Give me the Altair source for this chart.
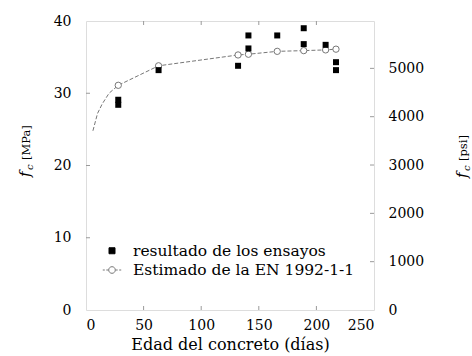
import altair as alt
import pandas as pd

# Ensayos de compresión (MPa) por edad del concreto (días)
dias_ensayo = [28, 28, 63, 132, 141, 141, 166, 189, 189, 208, 217, 217]
fc_ensayo = [29.1, 28.4, 33.2, 33.8, 38.0, 36.2, 38.0, 39.0, 36.8, 36.7, 34.3, 33.2]

# Curva estimada según EN 1992-1-1
dias_curva = [6, 10, 14, 20, 28, 63, 132, 141, 166, 189, 208, 217]
fc_curva = [24.8, 27.2, 28.5, 30.0, 31.1, 33.8, 35.3, 35.4, 35.8, 35.9, 36.0, 36.1]
dias_circulos = [28, 63, 132, 141, 166, 189, 208, 217]
fc_circulos = [31.1, 33.8, 35.3, 35.4, 35.8, 35.9, 36.0, 36.1]

# Ejes
x_dominio = [0, 250]
y_dominio = [0, 40]
psi_dominio = [0, 5980]
x_ticks = [0, 50, 100, 150, 200, 250]
y_ticks = [0, 10, 20, 30, 40]
psi_ticks = [0, 1000, 2000, 3000, 4000, 5000]
x_marcas = [50, 100, 150, 200]
y_marcas = [10, 20, 30]
psi_marcas = [1000, 2000, 3000, 4000, 5000]

series = ["resultado de los ensayos", "Estimado de la EN 1992-1-1"]
titulo_x = "Edad del concreto (días)"
titulo_izq = ["f", "c", "[MPa]"]
titulo_der = ["f", "c", "[psi]"]

W, H = 288, 289
FUENTE = "DejaVu Serif"
GRIS = "#777777"
MARCO = "#9a9a9a"

ensayos = pd.DataFrame({"dias": dias_ensayo, "fc": fc_ensayo})
curva = pd.DataFrame({"dias": dias_curva, "fc": fc_curva})
circulos = pd.DataFrame({"dias": dias_circulos, "fc": fc_circulos})
leyenda = pd.DataFrame({"serie": series})

xs = alt.Scale(domain=x_dominio, nice=False)
ys = alt.Scale(domain=y_dominio, nice=False)
psis = alt.Scale(domain=psi_dominio, nice=False)

eje_x = alt.Axis(values=x_ticks, title=titulo_x, ticks=False, tickSize=0, domain=False,
                 grid=False, labelPadding=8, titlePadding=4, labelFontSize=14,
                 titleFontSize=16, titleFontWeight="normal", labelFont=FUENTE,
                 titleFont=FUENTE, labelColor="black", titleColor="black", format="d")
eje_y = alt.Axis(values=y_ticks, title=None, ticks=False, tickSize=0, domain=False,
                 grid=False, labelPadding=15, labelFontSize=14, labelFont=FUENTE,
                 labelColor="black", orient="left", format="d")
eje_psi = alt.Axis(values=psi_ticks, title=None, ticks=False, tickSize=0, domain=False,
                   grid=False, labelPadding=14, labelFontSize=14, labelFont=FUENTE,
                   labelColor="black", orient="right", format="d")

X = alt.X("dias:Q", scale=xs, axis=eje_x)
Y = alt.Y("fc:Q", scale=ys, axis=eje_y)

linea = alt.Chart(curva).mark_line(color=GRIS, strokeWidth=1, strokeDash=[4, 2]).encode(x=X, y=Y)
puntos_est = alt.Chart(circulos).mark_point(
    shape="circle", size=40, filled=False, stroke=GRIS, fill="white", strokeWidth=1, opacity=1
).encode(x=alt.X("dias:Q", scale=xs), y=alt.Y("fc:Q", scale=ys))
puntos_ens = alt.Chart(ensayos).mark_point(
    shape="square", size=36, filled=True, color="black", opacity=1
).encode(x=alt.X("dias:Q", scale=xs), y=alt.Y("fc:Q", scale=ys))

# Marcas interiores de los ejes
marcas_x = pd.DataFrame({"dias": x_marcas})
tick_abajo = alt.Chart(marcas_x).mark_rule(color=MARCO, strokeWidth=1).encode(
    x=alt.X("dias:Q", scale=xs), y=alt.value(H), y2=alt.value(H - 4))
tick_arriba = alt.Chart(marcas_x).mark_rule(color=MARCO, strokeWidth=1).encode(
    x=alt.X("dias:Q", scale=xs), y=alt.value(0), y2=alt.value(4))
tick_izq = alt.Chart(pd.DataFrame({"fc": y_marcas})).mark_rule(color=MARCO, strokeWidth=1).encode(
    y=alt.Y("fc:Q", scale=ys), x=alt.value(0), x2=alt.value(4))

# Leyenda: símbolo cuadrado y línea discontinua con círculo.
# La capa solo genera la leyenda; sus marcas quedan recortadas fuera de la vista.
ruta_linea = ("M-1,0L-0.78,0M-0.62,0L-0.4,0M0.4,0L0.62,0M0.78,0L1,0"
              "M-0.36,0A0.36,0.36,0,1,1,0.36,0A0.36,0.36,0,1,1,-0.36,0Z")
capa_leyenda = alt.Chart(leyenda).mark_point(filled=True, strokeWidth=1, clip=True, opacity=1).encode(
    x=alt.value(-1000), y=alt.value(-1000),
    shape=alt.Shape("serie:N", scale=alt.Scale(domain=series, range=["square", ruta_linea]),
                    legend=alt.Legend(title=None, orient="none", legendX=16, legendY=222,
                                      labelFont=FUENTE, labelFontSize=15.5, labelColor="black",
                                      labelOffset=11, rowPadding=0, padding=0, symbolOpacity=1,
                                      symbolStrokeWidth=1, labelLimit=400)),
    fill=alt.Fill("serie:N", scale=alt.Scale(domain=series, range=["black", "white"])),
    stroke=alt.Stroke("serie:N", scale=alt.Scale(domain=series, range=["black", GRIS])),
    size=alt.Size("serie:N", scale=alt.Scale(domain=series, range=[36, 340])),
)

izquierda = alt.layer(linea, puntos_est, puntos_ens, tick_abajo, tick_arriba, tick_izq)

# Eje derecho en psi
derecha = alt.Chart(pd.DataFrame({"psi": psi_marcas})).mark_rule(color=MARCO, strokeWidth=1).encode(
    y=alt.Y("psi:Q", scale=psis, axis=eje_psi), x=alt.value(W - 4), x2=alt.value(W))

# Títulos verticales con subíndice
def titulo(piezas, x0, y0):
    f = alt.Chart(pd.DataFrame({"t": [piezas[0]]})).mark_text(
        font=FUENTE, fontSize=15, fontStyle="italic", angle=270, align="left",
        baseline="alphabetic", color="black").encode(text="t:N", x=alt.value(x0), y=alt.value(y0))
    c = alt.Chart(pd.DataFrame({"t": [piezas[1]]})).mark_text(
        font=FUENTE, fontSize=10, fontStyle="italic", angle=270, align="left",
        baseline="alphabetic", color="black").encode(text="t:N", x=alt.value(x0 + 3), y=alt.value(y0 - 7))
    u = alt.Chart(pd.DataFrame({"t": [piezas[2]]})).mark_text(
        font=FUENTE, fontSize=11.5, angle=270, align="left",
        baseline="alphabetic", color="black").encode(text="t:N", x=alt.value(x0), y=alt.value(y0 - 17))
    return [f, c, u]

titulos = alt.layer(*titulo(titulo_izq, -56, 156), *titulo(titulo_der, W + 93, 157))

chart = alt.layer(izquierda, capa_leyenda, derecha, titulos).resolve_scale(
    y="independent"
).properties(
    width=W, height=H, autosize="none",
    padding={"left": 86, "top": 21, "right": 98, "bottom": 46},
).configure_view(stroke=MARCO, strokeWidth=1).configure(background="white")

chart.save("out.html", embed_options={"renderer": "svg", "actions": False})
